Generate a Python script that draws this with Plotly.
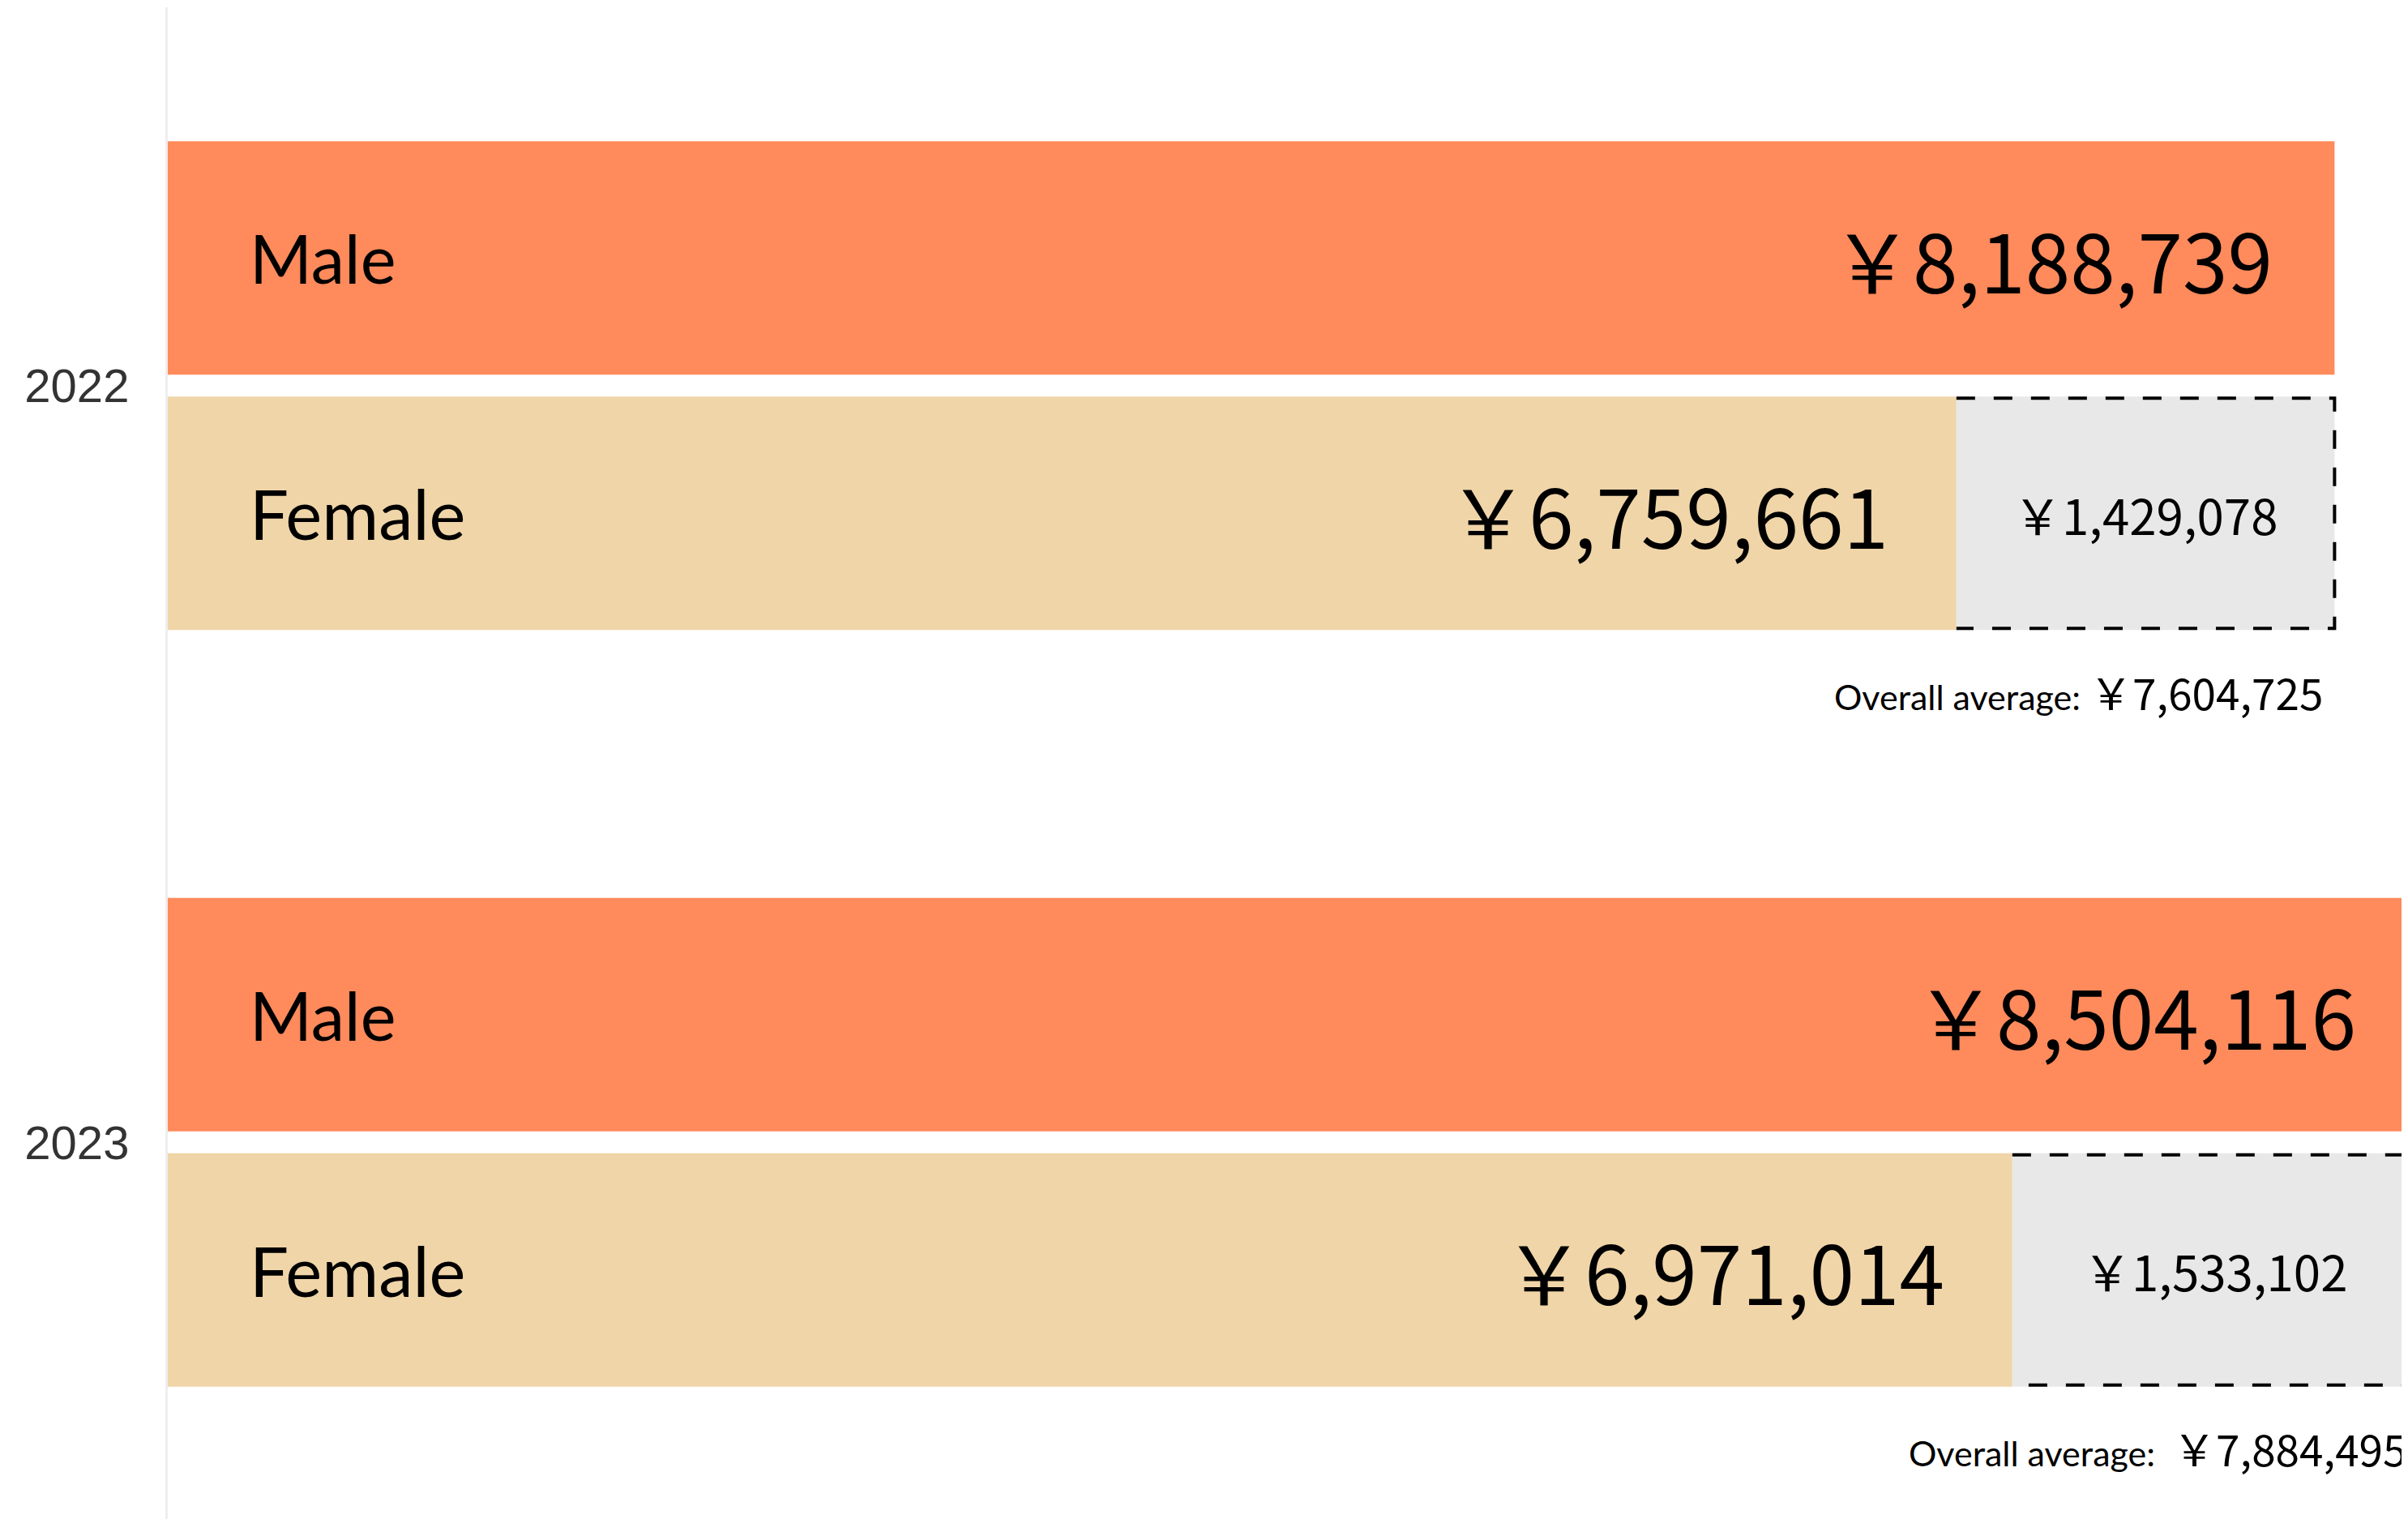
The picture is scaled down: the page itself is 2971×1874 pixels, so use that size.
import plotly.graph_objects as go

# ---------------- data ----------------
years = ["2022", "2023"]
male = [8188739, 8504116]
female = [6759661, 6971014]
gap = [1429078, 1533102]
overall = [7604725, 7884495]
series_labels = ["Male", "Female"]
overall_prefix = ["Overall average: ", "Overall average:  "]

# ---------------- style / layout constants ----------------
# (the page body adds an 8px offset; the figure is a little wider than the
#  window so the longest bar runs off the right edge as in the reference)
W, H = 2990, 1868
ML, MR, MT, MB = 199, 0, 1, 0
X_MAX = 8549000
BARGAP = 0.3251
BARGROUPGAP = 0.0857
C_MALE = "#FF8A5B"
C_FEMALE = "#F0D5A8"
C_GAP = "#E8E8E8"
LABEL_FONT = "Lato, 'Noto Sans', sans-serif"
VALUE_FONT = "'Noto Sans CJK JP', 'Noto Sans', sans-serif"
YEAR_FONT = "'Liberation Sans', Arial, sans-serif"


def yen(v):
    return "￥{:,}".format(v)


# geometry of the grouped bars in pixels (derived from layout settings)
plot_h = H - MT - MB
cat_px = plot_h / len(years)
slot = cat_px * (1 - BARGAP) / 2
bar_w = slot * (1 - BARGROUPGAP)
male_dy = slot / 2
female_dy = -slot / 2
f_top = -(slot * BARGROUPGAP / 2)
f_bot = f_top - bar_w

fig = go.Figure()
fig.add_trace(go.Bar(y=years, x=male, orientation="h", name="Male",
                     marker=dict(color=C_MALE, line=dict(width=0)),
                     offsetgroup="m", hoverinfo="skip"))
fig.add_trace(go.Bar(y=years, x=female, orientation="h", name="Female",
                     marker=dict(color=C_FEMALE, line=dict(width=0)),
                     offsetgroup="f", hoverinfo="skip"))
fig.add_trace(go.Bar(y=years, x=gap, base=female, orientation="h", name="Gap",
                     marker=dict(color=C_GAP, line=dict(width=0)),
                     offsetgroup="f", hoverinfo="skip"))

ann = []
shapes = []
for i, yr in enumerate(years):
    common = dict(xref="x", yref="y", y=i, showarrow=False)
    # series names
    ann.append(dict(common, x=0, xanchor="left", xshift=99, yshift=male_dy,
                    text=series_labels[0],
                    font=dict(family=LABEL_FONT, size=83, color="#000")))
    ann.append(dict(common, x=0, xanchor="left", xshift=99, yshift=female_dy,
                    text=series_labels[1],
                    font=dict(family=LABEL_FONT, size=85, color="#000")))
    # values
    ann.append(dict(common, x=male[i], xanchor="right", xshift=-74, yshift=male_dy,
                    text=yen(male[i]),
                    font=dict(family=VALUE_FONT, size=100, color="#000")))
    ann.append(dict(common, x=female[i], xanchor="right", xshift=-82, yshift=female_dy,
                    text=yen(female[i]),
                    font=dict(family=VALUE_FONT, size=100, color="#000")))
    # gap label
    ann.append(dict(common, x=female[i] + gap[i] / 2, xanchor="center", yshift=female_dy,
                    text=yen(gap[i]),
                    font=dict(family=VALUE_FONT, size=60, color="#000")))
    # overall average
    ann.append(dict(common, x=female[i] + gap[i], xanchor="right", xshift=-12,
                    yshift=-377,
                    text=("<span style='font-family:Lato;font-size:43px'>"
                          + overall_prefix[i].replace(" ", "&nbsp;")
                          + "</span><span style='font-family:Noto Sans CJK JP;font-size:53px'>"
                          + yen(overall[i]) + "</span>"),
                    font=dict(family=VALUE_FONT, size=53, color="#000")))
    # dashed outline of the gap box (top, right, bottom)
    x0 = female[i]
    x1 = female[i] + gap[i]
    t = f_top - 2
    b = f_bot + 2
    shapes.append(dict(type="path", xref="x", yref="y", ysizemode="pixel", yanchor=i,
                       path=f"M {x0},{t} L {x1},{t} L {x1},{b} L {x0},{b}",
                       line=dict(color="#000", width=4, dash="23px,23px"),
                       fillcolor="rgba(0,0,0,0)", layer="above"))

fig.update_layout(
    width=W, height=H,
    margin=dict(l=ML, r=MR, t=MT, b=MB, pad=0, autoexpand=False),
    paper_bgcolor="white", plot_bgcolor="white",
    barmode="group", bargap=BARGAP, bargroupgap=BARGROUPGAP,
    showlegend=False,
    annotations=ann, shapes=shapes,
    xaxis=dict(range=[0, X_MAX], visible=False, fixedrange=True),
    yaxis=dict(type="category", categoryorder="array", categoryarray=years,
               range=[len(years) - 0.5, -0.5], autorange=False, automargin=False,
               showline=True, linecolor="#EEEEEE", linewidth=3,
               showgrid=False, zeroline=False, ticks="", ticklabelstandoff=33,
               tickfont=dict(family=YEAR_FONT, size=58, color="#333333"),
               fixedrange=True),
)

fig.write_html("out.html")
